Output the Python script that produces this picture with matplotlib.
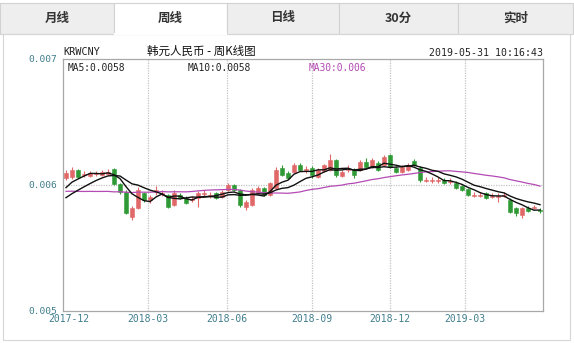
import numpy as np
import matplotlib
matplotlib.use("Agg")
import matplotlib.pyplot as plt
from matplotlib.patches import Rectangle
from matplotlib.transforms import offset_copy

# weekly KRW/CNY candles, 2017-12 .. 2019-05
open_ = [0.006056, 0.006063, 0.006119, 0.006079, 0.006071, 0.006087, 0.006079, 0.006087,
         0.006127, 0.006008, 0.005944, 0.005746, 0.005817, 0.005937, 0.005881, 0.005944,
         0.005929, 0.005921, 0.005841, 0.005921, 0.005897, 0.005881, 0.005897, 0.005929,
         0.005913, 0.005937, 0.005905, 0.005960, 0.006000, 0.005960, 0.005825, 0.005841,
         0.005937, 0.005976, 0.005921, 0.005976, 0.006135, 0.006095, 0.006103, 0.006159,
         0.006119, 0.006135, 0.006063, 0.006111, 0.006119, 0.006198, 0.006071, 0.006119,
         0.006119, 0.006119, 0.006183, 0.006143, 0.006175, 0.006159, 0.006238, 0.006135,
         0.006103, 0.006119, 0.006190, 0.006135, 0.006032, 0.006032, 0.006032, 0.006040,
         0.006024, 0.006016, 0.005992, 0.005968, 0.005913, 0.005913, 0.005937, 0.005905,
         0.005905, 0.005913, 0.005881, 0.005817, 0.005762, 0.005817, 0.005817, 0.005802]
high = [0.006119, 0.006143, 0.006127, 0.006111, 0.006111, 0.006111, 0.006119, 0.006127,
        0.006135, 0.006016, 0.005960, 0.005833, 0.005984, 0.005944, 0.005921, 0.005992,
        0.005960, 0.005929, 0.005960, 0.005937, 0.005913, 0.005913, 0.005952, 0.005960,
        0.005944, 0.005944, 0.005960, 0.006016, 0.006008, 0.005968, 0.005881, 0.005976,
        0.005992, 0.005984, 0.006024, 0.006143, 0.006159, 0.006111, 0.006175, 0.006175,
        0.006151, 0.006151, 0.006135, 0.006167, 0.006246, 0.006206, 0.006119, 0.006159,
        0.006135, 0.006198, 0.006214, 0.006214, 0.006190, 0.006238, 0.006246, 0.006151,
        0.006159, 0.006175, 0.006206, 0.006151, 0.006063, 0.006063, 0.006063, 0.006056,
        0.006056, 0.006032, 0.006000, 0.005976, 0.005944, 0.005944, 0.005944, 0.005937,
        0.005937, 0.005944, 0.005897, 0.005825, 0.005825, 0.005833, 0.005841, 0.005817]
low = [0.006040, 0.006048, 0.006056, 0.006063, 0.006063, 0.006071, 0.006071, 0.006079,
       0.006000, 0.005929, 0.005770, 0.005722, 0.005810, 0.005865, 0.005857, 0.005921,
       0.005913, 0.005817, 0.005833, 0.005889, 0.005849, 0.005865, 0.005825, 0.005913,
       0.005897, 0.005889, 0.005897, 0.005952, 0.005952, 0.005825, 0.005802, 0.005833,
       0.005929, 0.005913, 0.005913, 0.005968, 0.006071, 0.006048, 0.006095, 0.006111,
       0.006095, 0.006056, 0.006056, 0.006103, 0.006111, 0.006063, 0.006063, 0.006103,
       0.006056, 0.006111, 0.006135, 0.006135, 0.006111, 0.006151, 0.006135, 0.006095,
       0.006095, 0.006111, 0.006151, 0.006024, 0.006024, 0.006016, 0.006016, 0.006008,
       0.006008, 0.005968, 0.005952, 0.005913, 0.005905, 0.005905, 0.005889, 0.005897,
       0.005865, 0.005905, 0.005778, 0.005754, 0.005738, 0.005786, 0.005810, 0.005778]
close = [0.006095, 0.006119, 0.006063, 0.006087, 0.006095, 0.006095, 0.006103, 0.006103,
         0.006008, 0.005944, 0.005778, 0.005817, 0.005960, 0.005881, 0.005905, 0.005960,
         0.005937, 0.005825, 0.005937, 0.005897, 0.005857, 0.005889, 0.005937, 0.005937,
         0.005921, 0.005897, 0.005944, 0.006000, 0.005960, 0.005841, 0.005865, 0.005960,
         0.005976, 0.005921, 0.006016, 0.006119, 0.006079, 0.006056, 0.006159, 0.006119,
         0.006127, 0.006079, 0.006119, 0.006159, 0.006198, 0.006079, 0.006103, 0.006127,
         0.006079, 0.006183, 0.006143, 0.006198, 0.006119, 0.006222, 0.006143, 0.006103,
         0.006143, 0.006159, 0.006159, 0.006040, 0.006040, 0.006040, 0.006040, 0.006016,
         0.006032, 0.005976, 0.005960, 0.005921, 0.005921, 0.005921, 0.005897, 0.005913,
         0.005913, 0.005921, 0.005786, 0.005778, 0.005817, 0.005794, 0.005825, 0.005794]
# closes of the 29 weeks before the window (needed for the moving averages)
prev_close = [0.00609, 0.00611, 0.00610, 0.00608, 0.00611, 0.00610, 0.00609, 0.00612,
              0.00592, 0.00588, 0.00590, 0.00587, 0.00589, 0.00591, 0.00588, 0.00586,
              0.00590, 0.00592, 0.00589, 0.00588, 0.00580, 0.00579, 0.00582, 0.00584,
              0.00585, 0.00590, 0.00594, 0.00597, 0.00599]

tick_pos = [-0.5, 13.6, 26.8, 41, 54, 66.5]
tick_labels = ["2017-12", "2018-03", "2018-06", "2018-09", "2018-12", "2019-03"]
tabs = ["月线", "周线", "日线", "30分", "实时"]

cjk = ["Noto Sans CJK SC", "DejaVu Sans"]
mono = "DejaVu Sans Mono"
up_col = "#e06868"
down_col = "#2f9a35"
lab_col = "#3f7d8c"

n = len(close)
x = np.arange(n)
allc = np.array(prev_close + close)
def ma(k):
    return np.convolve(allc, np.ones(k) / k, mode="valid")[-n:]

fig = plt.figure(figsize=(5.74, 3.43), dpi=100)
W, H = 574, 343

# page background: tabs and panel frame (pixel coords)
bg = fig.add_axes([0, 0, 1, 1])
bg.set_xlim(0, W)
bg.set_ylim(H, 0)
bg.axis("off")
edges = [0, 114, 227, 339, 458, 573]
for i, t in enumerate(tabs):
    sel = (i == 1)
    bg.add_patch(Rectangle((edges[i], 3), edges[i + 1] - edges[i], 31,
                           facecolor="white" if sel else "#eeeeee",
                           edgecolor="#d2d2d2", linewidth=0.8))
    bg.text((edges[i] + edges[i + 1]) / 2, 18, t, family=cjk, fontsize=9,
            color="#333333", ha="center", va="center", fontweight="bold")
bg.add_patch(Rectangle((3, 34), 567, 306, facecolor="none",
                       edgecolor="#d6d6d6", linewidth=0.8))
bg.plot([115, 226], [34, 34], color="white", linewidth=1.5)

bg.text(63, 52, "KRWCNY", family=mono, fontsize=7.4, color="#222222", va="center")
bg.text(201, 51, "韩元人民币 - 周K线图", family=cjk, fontsize=8.3, color="#111111",
        ha="center", va="center")
bg.text(543, 53, "2019-05-31 10:16:43", family=mono, fontsize=7.1, color="#222222",
        ha="right", va="center")

# price panel
ax = fig.add_axes([63 / W, 1 - 311 / H, 480 / W, 252 / H])
ax.set_xlim(-0.5, n - 0.5)
ax.set_ylim(0.005, 0.007)

for p in tick_pos[1:]:
    ax.axvline(p, color="#c4c4c4", linestyle=(0, (1, 1)), linewidth=0.9, zorder=0)
ax.axhline(0.006, color="#c4c4c4", linestyle=(0, (1, 1)), linewidth=0.9, zorder=0)

for i in range(n):
    o, c = open_[i], close[i]
    col = up_col if c >= o else down_col
    ax.vlines(x[i], low[i], high[i], color=col, linewidth=0.8, zorder=2)
    if abs(c - o) < 0.000004:
        ax.hlines(c, x[i] - 0.35, x[i] + 0.35, color=col, linewidth=1.0, zorder=3)
    else:
        ax.bar(x[i], abs(c - o), bottom=min(o, c), width=0.66, color=col,
               edgecolor=col, linewidth=0.4, zorder=3)

ax.plot(x, ma(30), color="#b44ab4", linewidth=0.9, zorder=4)
ax.plot(x, ma(10), color="#111111", linewidth=1.0, zorder=4)
ax.plot(x, ma(5), color="#111111", linewidth=1.0, zorder=4)

for s in ax.spines.values():
    s.set_color("#a8a8a8")
    s.set_linewidth(0.9)

ax.set_yticks([0.005, 0.006, 0.007])
ax.set_yticklabels(["0.005", "0.006", "0.007"], family=mono, fontsize=6.8, color=lab_col)
ax.tick_params(axis="y", length=0, pad=4)
ax.set_xticks([])
for k, (p, lab) in enumerate(zip(tick_pos, tick_labels)):
    tr = ax.get_xaxis_transform()
    if k == 0:
        tr = offset_copy(tr, fig=fig, x=6, y=0, units="dots")
    ax.text(p, -0.012, lab, transform=tr, family=mono, fontsize=7, color=lab_col,
            ha="center", va="top")

ax.text(0.01, 0.985, "MA5:0.0058", transform=ax.transAxes, family=mono, fontsize=6.9,
        color="#222222", va="top")
ax.text(0.26, 0.985, "MA10:0.0058", transform=ax.transAxes, family=mono, fontsize=6.9,
        color="#222222", va="top")
ax.text(0.511, 0.985, "MA30:0.006", transform=ax.transAxes, family=mono, fontsize=6.9,
        color="#b44ab4", va="top")

fig.savefig("out.png", dpi=100)
